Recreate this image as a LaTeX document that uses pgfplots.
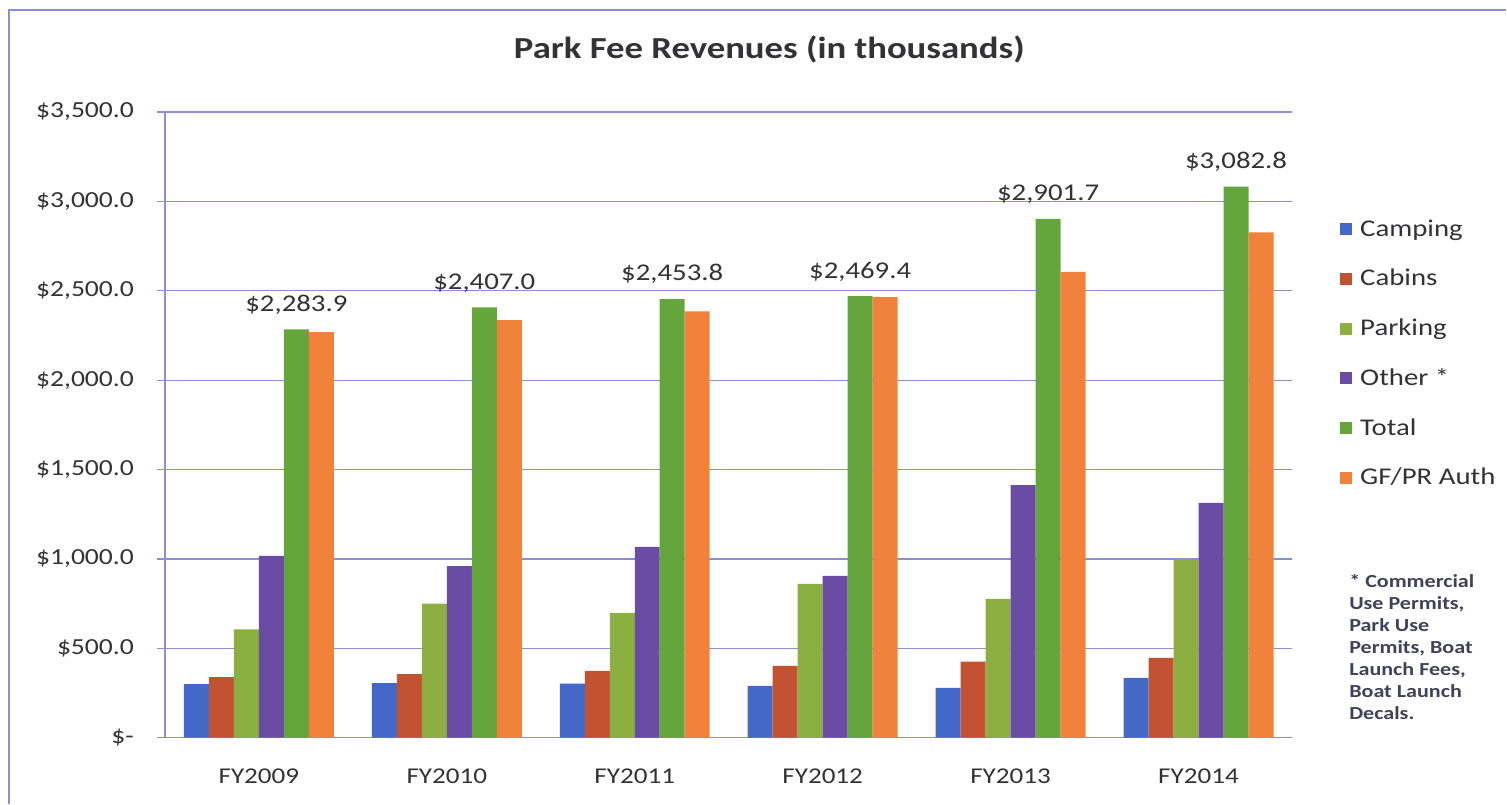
\documentclass[border=0pt]{standalone}
\usepackage{pgfplots}
\pgfplotsset{compat=1.18}
\usepackage{fontspec}
\setmainfont{Carlito}[FakeStretch=1.2]

\definecolor{camping}{RGB}{68,104,200}
\definecolor{cabins}{RGB}{194,82,50}
\definecolor{parking}{RGB}{140,175,65}
\definecolor{other}{RGB}{106,76,165}
\definecolor{total}{RGB}{100,165,60}
\definecolor{gfpr}{RGB}{240,130,60}
\definecolor{gridc}{RGB}{140,140,215}
\definecolor{textc}{RGB}{50,50,55}
\definecolor{notec}{RGB}{65,65,90}

\begin{document}
\begin{tikzpicture}
\path (0,0) rectangle (753.5pt,402pt);
\draw[gridc, line width=0.6pt] (4.5pt,0) -- (4.5pt,397pt) -- (753.5pt,397pt);
\begin{axis}[
    at={(82.5pt,33pt)}, anchor=south west,
    scale only axis, width=564pt, height=313pt,
    ybar=0pt, bar width=0.133,
    xmin=-0.5, xmax=5.5, ymin=0, ymax=3500,
    clip=false,
    xtick={0,...,5},
    xticklabels={FY2009,FY2010,FY2011,FY2012,FY2013,FY2014},
    ytick={0,500,...,3500},
    yticklabels={\$-\hspace{1.2em},\$500.0,{\$1,000.0},{\$1,500.0},{\$2,000.0},{\$2,500.0},{\$3,000.0},{\$3,500.0}},
    ymajorgrids, grid style={gridc, line width=0.6pt},
    axis x line*=bottom, axis y line*=left,
    axis line style={-, gridc, line width=0.6pt},
    xtick style={draw=none},
    ytick style={draw=gridc, line width=0.6pt},
    tick align=outside, major tick length=4pt,
    yticklabel style={font=\fontsize{11.5}{13}\selectfont, text=textc, xshift=-8pt},
    xticklabel style={font=\fontsize{11.3}{13}\selectfont, text=textc, yshift=-8pt},
    title={Park Fee Revenues (in thousands)},
    title style={font=\fontsize{15.3}{18}\selectfont\bfseries, text=textc, at={(0.536,1.08)}, anchor=center},
    legend style={at={(1.042,0.835)}, anchor=north west, draw=none, fill=none,
        inner sep=0pt, row sep=11pt, font=\fontsize{12}{13}\selectfont, text=textc,
        legend cell align=left, /tikz/every odd column/.style={column sep=2pt}},
    legend image code/.code={\fill[#1] (0pt,-3pt) rectangle (6pt,3pt);},
]
\addplot[fill=camping, draw=none, bar shift=-0.3325] coordinates {(0,300) (1,306) (2,302) (3,290) (4,279) (5,335)};
\addplot[fill=cabins, draw=none, bar shift=-0.1995] coordinates {(0,339) (1,355) (2,374) (3,402) (4,425) (5,447)};
\addplot[fill=parking, draw=none, bar shift=-0.0665] coordinates {(0,606) (1,750) (2,698) (3,860) (4,777) (5,1000)};
\addplot[fill=other, draw=none, bar shift=0.0665] coordinates {(0,1017) (1,960) (2,1067) (3,905) (4,1413) (5,1313)};
\addplot[fill=total, draw=none, bar shift=0.1995,
    nodes near coords={\$\pgfmathprintnumber[fixed,fixed zerofill,precision=1,1000 sep={,},assume math mode=true]{\pgfplotspointmeta}},
    every node near coord/.append style={font=\fontsize{12}{14}\selectfont, text=textc, yshift=4pt}]
    coordinates {(0,2283.9) (1,2407.0) (2,2453.8) (3,2469.4) (4,2901.7) (5,3082.8)};
\addplot[fill=gfpr, draw=none, bar shift=0.3325] coordinates {(0,2268) (1,2335) (2,2385) (3,2465) (4,2605) (5,2827)};
\legend{Camping,Cabins,Parking,Other *,Total,GF/PR Auth}
\node[anchor=north west, align=left, inner sep=0pt, text=notec,
    font=\fontsize{9.2}{11}\selectfont\bfseries] at (rel axis cs:1.05,0.262)
    {* Commercial\\Use Permits,\\Park Use\\Permits, Boat\\Launch Fees,\\Boat Launch\\Decals.};
\end{axis}
\end{tikzpicture}
\end{document}
